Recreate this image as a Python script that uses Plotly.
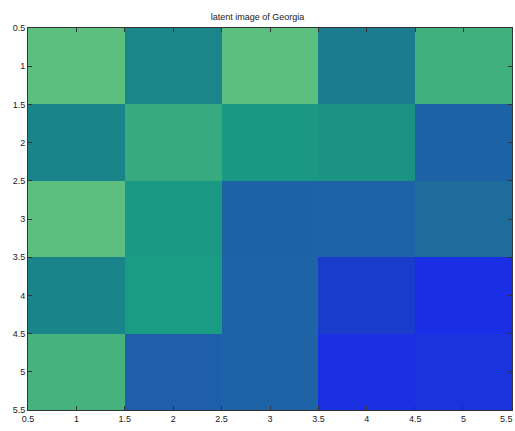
import plotly.graph_objects as go

# Latent image values (rows 1..5 top to bottom, columns 1..5)
cols = [1, 2, 3, 4, 5]
rows = [1, 2, 3, 4, 5]
latent = [
    [1.00, 0.53, 1.00, 0.47, 0.88],
    [0.52, 0.85, 0.70, 0.64, 0.30],
    [1.00, 0.73, 0.30, 0.31, 0.38],
    [0.52, 0.74, 0.31, 0.12, 0.00],
    [0.90, 0.28, 0.31, 0.02, 0.04],
]
tick_vals = [0.5, 1, 1.5, 2, 2.5, 3, 3.5, 4, 4.5, 5, 5.5]
tick_text = ["0.5", "1", "1.5", "2", "2.5", "3", "3.5", "4", "4.5", "5", "5.5"]

colorscale = [
    [0.00, "#1a2ee6"],
    [0.12, "#1a3ccc"],
    [0.30, "#1e62a6"],
    [0.40, "#1e6e98"],
    [0.50, "#1a828c"],
    [0.65, "#1a9484"],
    [0.75, "#1a9c84"],
    [0.88, "#40b07e"],
    [1.00, "#5cbf80"],
]

label_font = dict(family="Liberation Sans, Arial, sans-serif", size=9, color="#222222")

fig = go.Figure(
    go.Heatmap(
        x=cols,
        y=rows,
        z=latent,
        zmin=0,
        zmax=1,
        colorscale=colorscale,
        showscale=False,
        xgap=0,
        ygap=0,
    )
)

axis_common = dict(
    tickvals=tick_vals,
    ticktext=tick_text,
    ticks="inside",
    ticklen=4,
    tickcolor="#333333",
    showline=True,
    linecolor="#333333",
    linewidth=1,
    mirror="allticks",
    showgrid=False,
    zeroline=False,
    tickfont=label_font,
)

fig.update_layout(
    width=515,
    height=431,
    margin=dict(l=28, r=3, t=28, b=21),
    paper_bgcolor="white",
    plot_bgcolor="white",
    title=dict(
        text="latent image of Georgia",
        x=0.5,
        xanchor="center",
        y=1 - 17 / 431,
        yanchor="middle",
        font=label_font,
    ),
    xaxis=dict(range=[0.5, 5.5], **axis_common),
    yaxis=dict(range=[5.5, 0.5], **axis_common),
)

# The last x tick label sits on the figure's right edge; draw it explicitly,
# right-aligned so it stays inside the page
fig.add_annotation(
    x=tick_vals[-1],
    xref="x",
    xanchor="right",
    xshift=3,
    y=0,
    yref="paper",
    yanchor="top",
    yshift=-2,
    text=tick_text[-1],
    showarrow=False,
    font=label_font,
)

fig.write_html("out.html")
